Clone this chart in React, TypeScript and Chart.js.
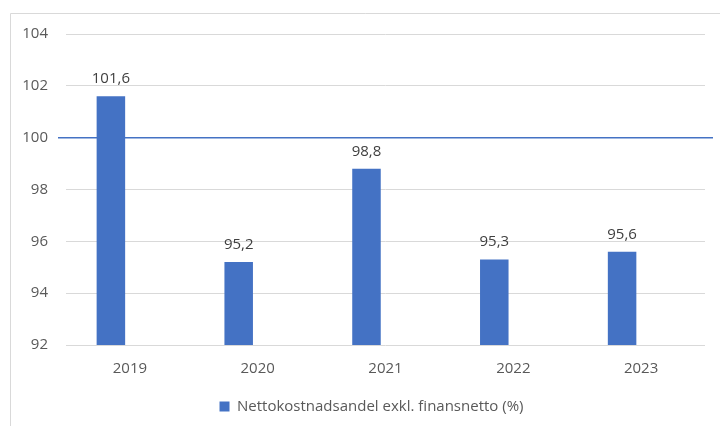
import React, { useEffect, useRef } from 'react';
import { Chart, registerables } from 'chart.js';

Chart.register(...registerables);

const categories = ['2019', '2020', '2021', '2022', '2023'];
const values = [101.6, 95.2, 98.8, 95.3, 95.6];
const valueLabels = ['101,6', '95,2', '98,8', '95,3', '95,6'];
const placeholderValues = [null, null, null, null, null];
const seriesName = 'Nettokostnadsandel exkl. finansnetto (%)';
const referenceValue = 100;
const yMin = 92;
const yMax = 104;
const yStep = 2;

const FONT = '"Open Sans", Lato, sans-serif';

const framePlugin = {
  id: 'frame',
  beforeDraw(chart: any) {
    const ctx = chart.ctx;
    ctx.save();
    ctx.strokeStyle = '#d9d9d9';
    ctx.lineWidth = 1;
    ctx.beginPath();
    ctx.moveTo(10.5, chart.height);
    ctx.lineTo(10.5, 13.5);
    ctx.lineTo(chart.width, 13.5);
    ctx.stroke();
    ctx.restore();
  },
};

const legendShiftPlugin = {
  id: 'legendShift',
  afterLayout(chart: any) {
    const lg = chart.legend;
    if (lg) {
      lg.left = 38;
      lg.width = lg.right - lg.left;
    }
  },
};

const refLinePlugin = {
  id: 'refLine',
  beforeDatasetsDraw(chart: any) {
    const { ctx, chartArea, scales } = chart;
    const y = scales.y.getPixelForValue(referenceValue);
    ctx.save();
    ctx.strokeStyle = '#4472C4';
    ctx.lineWidth = 1.5;
    ctx.beginPath();
    ctx.moveTo(chartArea.left - 8, y);
    ctx.lineTo(chartArea.right + 8, y);
    ctx.stroke();
    ctx.restore();
  },
};

const dataLabelPlugin = {
  id: 'dataLabels',
  afterDatasetsDraw(chart: any) {
    const ctx = chart.ctx;
    const meta = chart.getDatasetMeta(0);
    ctx.save();
    ctx.fillStyle = '#404040';
    ctx.font = `15px ${FONT}`;
    ctx.textAlign = 'center';
    ctx.textBaseline = 'alphabetic';
    meta.data.forEach((bar: any, i: number) => {
      ctx.fillText(valueLabels[i], bar.x, bar.y - 13);
    });
    ctx.restore();
  },
};

export default function App() {
  const canvasRef = useRef<HTMLCanvasElement>(null);

  useEffect(() => {
    document.body.style.margin = '0';
    const canvas = canvasRef.current;
    if (!canvas) return;
    const chart = new Chart(canvas, {
      type: 'bar',
      data: {
        labels: categories,
        datasets: [
          {
            label: seriesName,
            data: values,
            backgroundColor: '#4472C4',
            borderWidth: 0,
            barPercentage: 0.75,
            categoryPercentage: 0.595,
          },
          {
            label: '',
            data: placeholderValues as any,
            backgroundColor: '#ED7D31',
            barPercentage: 0.75,
            categoryPercentage: 0.595,
          },
        ],
      },
      options: {
        responsive: false,
        animation: false,
        layout: { padding: { top: 34, right: 15, bottom: 2, left: 0 } },
        plugins: {
          tooltip: { enabled: false },
          legend: {
            position: 'bottom',
            labels: {
              filter: (item: any) => item.datasetIndex === 0,
              boxWidth: 10,
              boxHeight: 10,
              padding: 10,
              color: '#595959',
              font: { family: FONT, size: 15 },
            },
          },
        },
        scales: {
          x: {
            grid: { display: false, drawTicks: false },
            border: { display: false },
            ticks: {
              color: '#595959',
              font: { family: FONT, size: 15 },
              padding: 15,
            },
            afterFit(scale: any) {
              scale.height = 44;
            },
          },
          y: {
            min: yMin,
            max: yMax,
            grid: { color: '#d9d9d9', lineWidth: 1, drawTicks: false },
            border: { display: false },
            ticks: {
              stepSize: yStep,
              color: '#595959',
              font: { family: FONT, size: 15 },
              padding: 18,
            },
            afterFit(scale: any) {
              scale.width = 66;
            },
          },
        },
      },
      plugins: [framePlugin, legendShiftPlugin, refLinePlugin, dataLabelPlugin],
    });
    return () => chart.destroy();
  }, []);

  return <canvas ref={canvasRef} width={720} height={426} style={{ display: 'block' }} />;
}
